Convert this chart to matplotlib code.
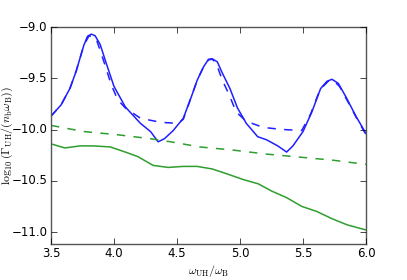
import matplotlib
matplotlib.use("Agg")
import matplotlib.pyplot as plt

# --- data --------------------------------------------------------------
x_bs = [3.50, 3.58, 3.65, 3.70, 3.76, 3.79, 3.82, 3.85, 3.89, 3.94, 4.00, 4.09, 4.21, 4.29,
        4.35, 4.40, 4.47, 4.55, 4.62, 4.66, 4.71, 4.75, 4.78, 4.82, 4.86, 4.92, 4.98, 5.05,
        5.14, 5.21, 5.30, 5.37, 5.42, 5.50, 5.57, 5.64, 5.69, 5.73, 5.78, 5.84, 5.92, 6.00]
y_bs = [-9.87, -9.76, -9.60, -9.43, -9.18, -9.09, -9.07, -9.085, -9.17, -9.36, -9.58, -9.78, -9.94, -10.02,
        -10.12, -10.09, -10.01, -9.89, -9.66, -9.52, -9.39, -9.315, -9.31, -9.34, -9.45, -9.60, -9.79, -9.94,
        -10.07, -10.10, -10.16, -10.22, -10.16, -10.02, -9.83, -9.60, -9.53, -9.51, -9.55, -9.68, -9.87, -10.04]

x_bd = [3.50, 3.58, 3.65, 3.70, 3.76, 3.80, 3.83, 3.86, 3.915, 3.98, 4.03, 4.09, 4.21, 4.37, 4.51,
        4.55, 4.62, 4.66, 4.71, 4.75, 4.78, 4.81, 4.86, 4.91, 4.97, 5.05, 5.185, 5.34, 5.49,
        5.56, 5.635, 5.70, 5.74, 5.79, 5.87, 5.93, 6.00]
y_bd = [-9.87, -9.76, -9.60, -9.43, -9.18, -9.09, -9.085, -9.12, -9.32, -9.57, -9.71, -9.79, -9.89, -9.93, -9.94,
        -9.90, -9.66, -9.52, -9.39, -9.32, -9.315, -9.35, -9.52, -9.65, -9.83, -9.92, -9.98, -10.00, -10.01,
        -9.85, -9.61, -9.53, -9.52, -9.58, -9.76, -9.90, -10.05]

x_gs = [3.50, 3.61, 3.73, 3.835, 3.97, 4.09, 4.19, 4.31, 4.43, 4.55, 4.66, 4.78, 4.89, 5.03,
        5.145, 5.25, 5.37, 5.49, 5.61, 5.73, 5.85, 6.00]
y_gs = [-10.14, -10.18, -10.16, -10.16, -10.17, -10.22, -10.265, -10.35, -10.37, -10.36, -10.36, -10.385,
        -10.43, -10.49, -10.53, -10.60, -10.665, -10.75, -10.80, -10.87, -10.93, -10.98]

x_gd = [3.50, 3.76, 4.02, 4.29, 4.45, 4.68, 4.94, 5.21, 5.48, 5.74, 6.00]
y_gd = [-9.96, -10.02, -10.05, -10.09, -10.12, -10.17, -10.20, -10.24, -10.27, -10.30, -10.34]

x_ticks = [3.5, 4.0, 4.5, 5.0, 5.5, 6.0]
y_ticks = [-11.0, -10.5, -10.0, -9.5, -9.0]

# --- plot ---------------------------------------------------------------
plt.style.use("classic")
plt.rcParams["mathtext.fontset"] = "cm"
plt.rcParams["font.size"] = 8.5

fig = plt.figure(figsize=(4.07, 2.80), dpi=100)
ax = fig.add_axes([51/407, 1-244/280, (366-51)/407, (244-27)/280])
ax.plot(x_bs, y_bs, color="#1f1fff", lw=1.1)
ax.plot(x_bd, y_bd, color="#1f1fff", lw=1.1, ls="--")
ax.plot(x_gs, y_gs, color="#2e9e2e", lw=1.1)
ax.plot(x_gd, y_gd, color="#2e9e2e", lw=1.1, ls="--")

ax.set_xlim(3.5, 6.0)
ax.set_ylim(-11.117, -9.0)
ax.set_xticks(x_ticks)
ax.set_yticks(y_ticks)
ax.set_xticklabels([f"{v:.1f}" for v in x_ticks])
ax.set_yticklabels([f"\u2212{abs(v):.1f}" for v in y_ticks])
ax.tick_params(labelsize=8.5, pad=2.5)
for s in ax.spines.values():
    s.set_color("#555555")
ax.set_xlabel(r"$\omega_{\rm UH}/\omega_{\rm B}$", fontsize=8.5)
ax.set_ylabel(r"$\log_{10}(\Gamma_{\rm UH}/(n_{\rm b}\omega_{\rm B}))$", fontsize=8.5)
ax.xaxis.set_label_coords(0.5, (244 - 263) / 217)
ax.yaxis.set_label_coords((15 - 51) / 315, 0.5)

fig.savefig("out.png", dpi=100)
